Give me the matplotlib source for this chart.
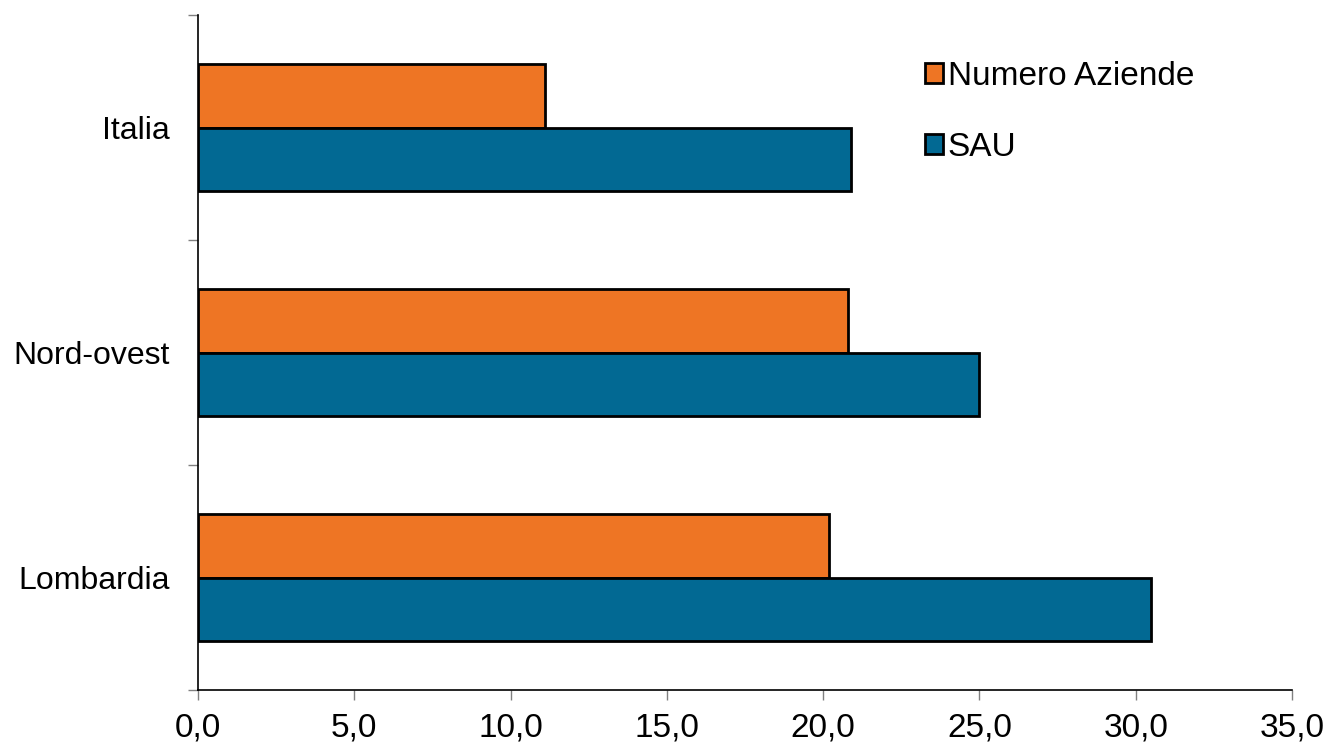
import matplotlib.pyplot as plt
import numpy as np

plt.rcParams['font.family'] = ['Liberation Sans', 'DejaVu Sans']

# regioni (dal basso verso l'alto)
regioni = ["Lombardia", "Nord-ovest", "Italia"]
numero_aziende = [20.2, 20.8, 11.1]
sau = [30.5, 25.0, 20.9]

x_ticks = [0, 5, 10, 15, 20, 25, 30, 35]
x_labels = ["0,0", "5,0", "10,0", "15,0", "20,0", "25,0", "30,0", "35,0"]

fig = plt.figure(figsize=(13.25, 7.47), dpi=100)
ax = fig.add_axes([0.1494, 0.0763, 0.8257, 0.9036])

y = np.arange(len(regioni))
h = 0.284
ax.barh(y + h / 2, numero_aziende, height=h, color="#EE7524",
        edgecolor="black", linewidth=2, label="Numero Aziende")
ax.barh(y - h / 2, sau, height=h, color="#026993",
        edgecolor="black", linewidth=2, label="SAU")

ax.set_xlim(0, 35)
ax.set_ylim(-0.5, 2.5)
ax.set_xticks(x_ticks)
ax.set_xticklabels(x_labels, fontsize=24)
ax.set_yticks([-0.5, 0.5, 1.5, 2.5])
ax.set_yticklabels([])
ax.set_yticks(y, minor=True)
ax.set_yticklabels(regioni, minor=True, fontsize=23)
ax.tick_params(axis="y", which="minor", length=0, pad=20)
ax.tick_params(axis="both", which="major", length=7, width=1, color="#808080")
ax.tick_params(axis="x", pad=9)

for s in ["top", "right"]:
    ax.spines[s].set_visible(False)
for s in ["left", "bottom"]:
    ax.spines[s].set_linewidth(1.2)

ax.legend(loc="upper left", bbox_to_anchor=(0.652, 0.952), frameon=False,
          fontsize=24, handlelength=0.55, handleheight=0.55,
          handletextpad=0.15, labelspacing=1.2, borderaxespad=0)

fig.savefig("out.png", dpi=100)
